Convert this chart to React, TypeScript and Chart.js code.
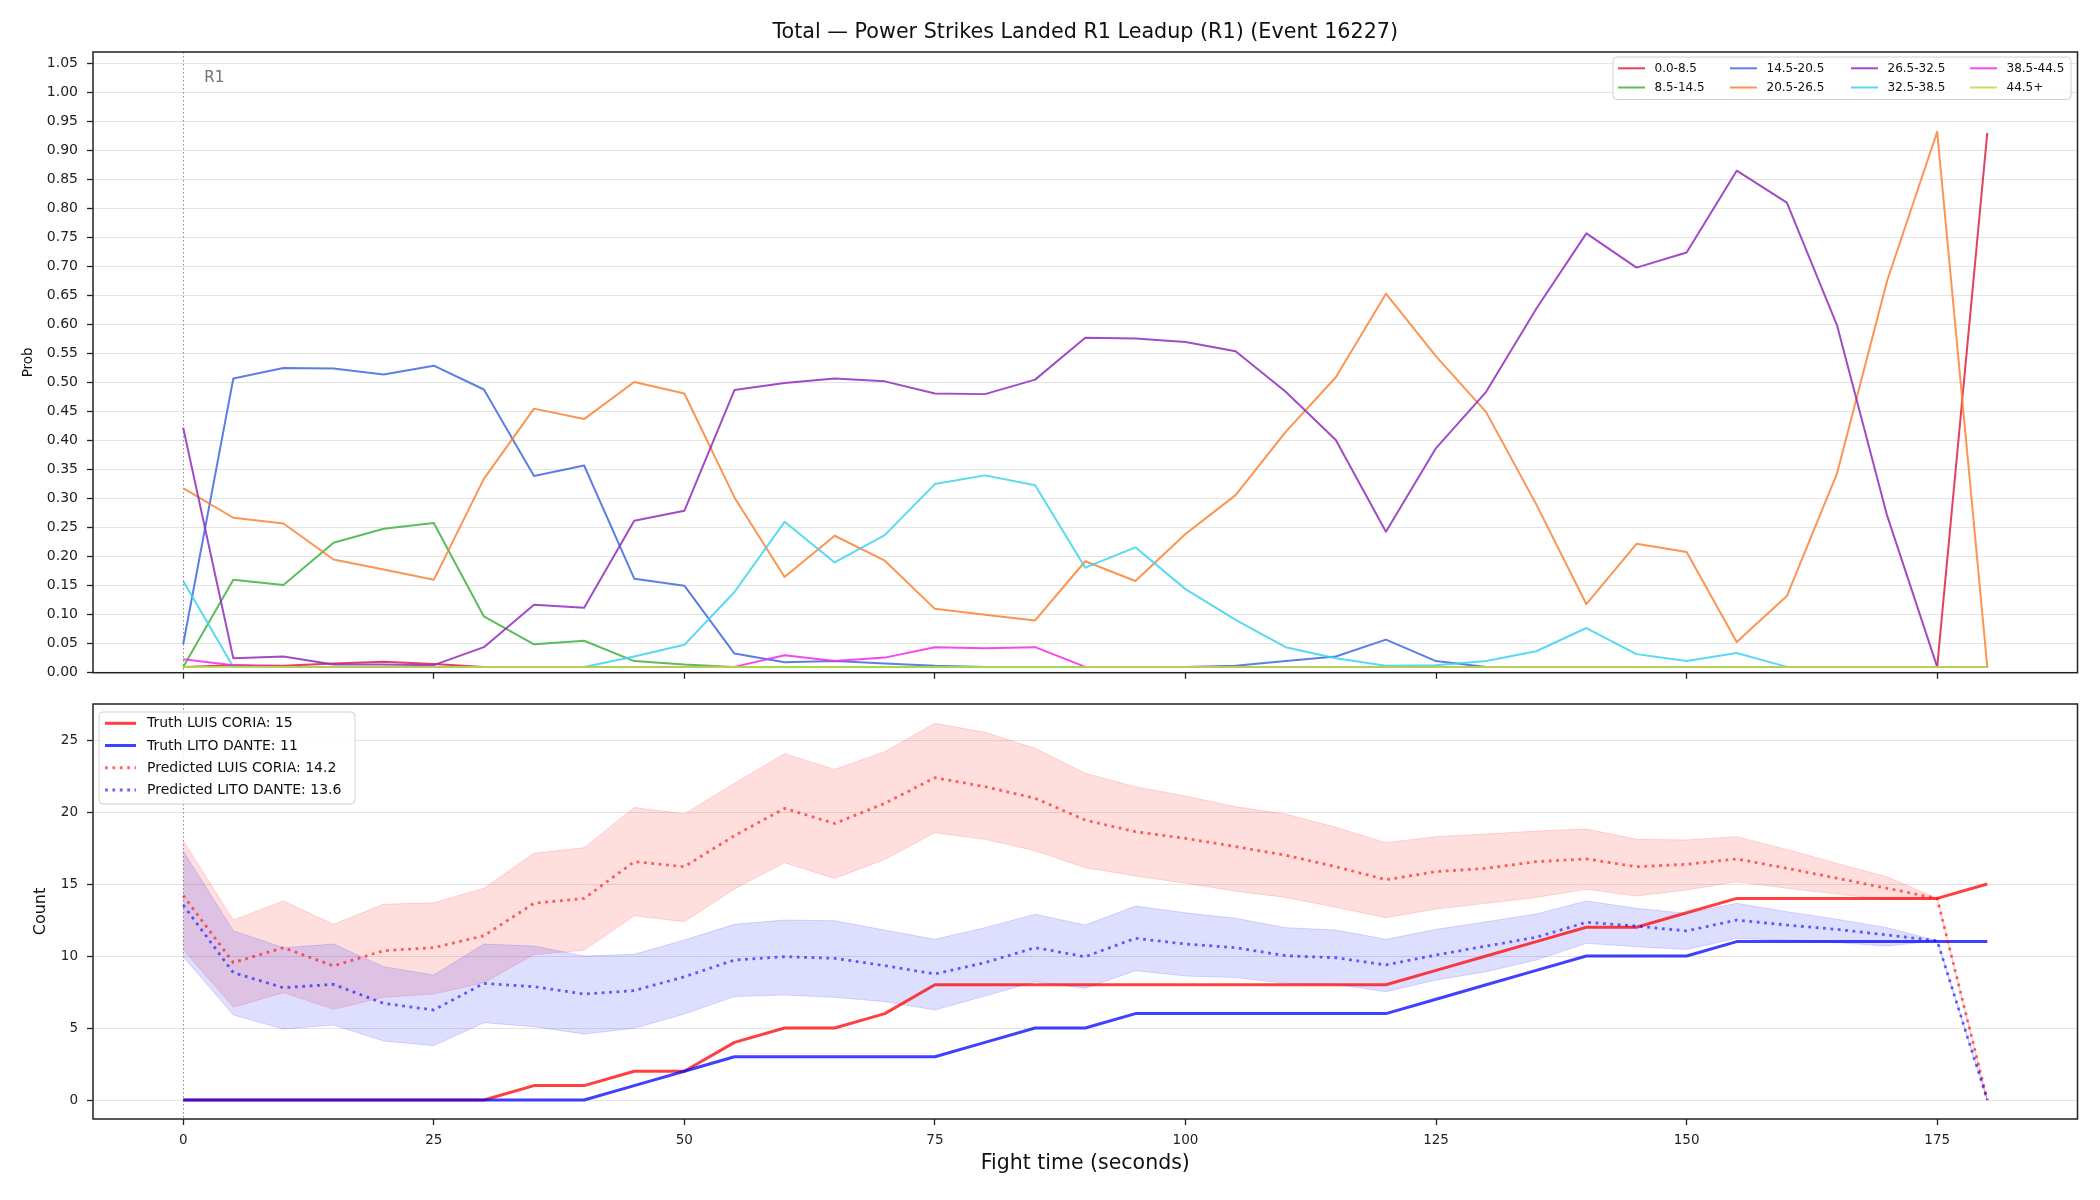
import React, { useEffect, useRef } from "react";
import { Chart, registerables } from "chart.js";

Chart.register(...registerables);

const FONT = "'DejaVu Sans', 'Liberation Sans', sans-serif";
const TITLE = "Total \u2014 Power Strikes Landed R1 Leadup (R1) (Event 16227)";

// ---------- data ----------
const times = [0, 5, 10, 15, 20, 25, 30, 35, 40, 45, 50, 55, 60, 65, 70, 75, 80, 85, 90, 95, 100, 105, 110, 115, 120, 125, 130, 135, 140, 145, 150, 155, 160, 165, 170, 175, 180];

const binLabels = ["0.0-8.5", "8.5-14.5", "14.5-20.5", "20.5-26.5", "26.5-32.5", "32.5-38.5", "38.5-44.5", "44.5+"];
const binColors = [
  "rgba(222,30,70,0.85)",
  "rgba(70,180,70,0.88)",
  "rgba(65,105,225,0.85)",
  "rgba(250,130,50,0.85)",
  "rgba(145,45,190,0.86)",
  "rgba(60,210,240,0.85)",
  "rgba(245,40,235,0.85)",
  "rgba(180,225,70,0.88)",
];

const prob_0_8 = [0.01, 0.013, 0.012, 0.016, 0.019, 0.015, 0.01, 0.01, 0.01, 0.01, 0.01, 0.01, 0.01, 0.01, 0.01, 0.01, 0.01, 0.01, 0.01, 0.01, 0.01, 0.01, 0.01, 0.01, 0.01, 0.01, 0.01, 0.01, 0.01, 0.01, 0.01, 0.01, 0.01, 0.01, 0.01, 0.01, 0.93];
const prob_8_14 = [0.01, 0.16, 0.151, 0.224, 0.248, 0.258, 0.097, 0.049, 0.055, 0.02, 0.014, 0.01, 0.01, 0.01, 0.01, 0.01, 0.01, 0.01, 0.01, 0.01, 0.01, 0.01, 0.01, 0.01, 0.01, 0.01, 0.01, 0.01, 0.01, 0.01, 0.01, 0.01, 0.01, 0.01, 0.01, 0.01, 0.01];
const prob_14_20 = [0.049, 0.507, 0.525, 0.524, 0.514, 0.529, 0.488, 0.339, 0.357, 0.162, 0.15, 0.033, 0.018, 0.02, 0.016, 0.012, 0.01, 0.01, 0.01, 0.01, 0.01, 0.012, 0.02, 0.028, 0.057, 0.02, 0.01, 0.01, 0.01, 0.01, 0.01, 0.01, 0.01, 0.01, 0.01, 0.01, 0.01];
const prob_20_26 = [0.318, 0.267, 0.257, 0.195, 0.178, 0.16, 0.334, 0.455, 0.437, 0.501, 0.481, 0.302, 0.165, 0.236, 0.193, 0.11, 0.1, 0.09, 0.192, 0.158, 0.239, 0.306, 0.415, 0.509, 0.653, 0.545, 0.449, 0.29, 0.118, 0.222, 0.208, 0.053, 0.132, 0.343, 0.675, 0.932, 0.01];
const prob_26_32 = [0.422, 0.025, 0.028, 0.014, 0.014, 0.013, 0.044, 0.117, 0.112, 0.262, 0.279, 0.487, 0.499, 0.507, 0.502, 0.481, 0.48, 0.505, 0.577, 0.576, 0.57, 0.554, 0.484, 0.401, 0.243, 0.387, 0.484, 0.627, 0.757, 0.698, 0.724, 0.865, 0.81, 0.599, 0.271, 0.01, 0.01];
const prob_32_38 = [0.158, 0.01, 0.01, 0.01, 0.01, 0.01, 0.01, 0.01, 0.01, 0.028, 0.048, 0.139, 0.26, 0.19, 0.237, 0.325, 0.34, 0.323, 0.181, 0.216, 0.144, 0.091, 0.044, 0.025, 0.012, 0.013, 0.02, 0.037, 0.077, 0.032, 0.02, 0.034, 0.01, 0.01, 0.01, 0.01, 0.01];
const prob_38_44 = [0.023, 0.013, 0.01, 0.01, 0.01, 0.01, 0.01, 0.01, 0.01, 0.01, 0.01, 0.01, 0.03, 0.02, 0.026, 0.044, 0.042, 0.044, 0.01, 0.01, 0.01, 0.01, 0.01, 0.01, 0.01, 0.01, 0.01, 0.01, 0.01, 0.01, 0.01, 0.01, 0.01, 0.01, 0.01, 0.01, 0.01];
const prob_44_up = [0.01, 0.01, 0.01, 0.01, 0.01, 0.01, 0.01, 0.01, 0.01, 0.01, 0.01, 0.01, 0.01, 0.01, 0.01, 0.01, 0.01, 0.01, 0.01, 0.01, 0.01, 0.01, 0.01, 0.01, 0.01, 0.01, 0.01, 0.01, 0.01, 0.01, 0.01, 0.01, 0.01, 0.01, 0.01, 0.01, 0.01];

const truthLuis = [0, 0, 0, 0, 0, 0, 0, 1, 1, 2, 2, 4, 5, 5, 6, 8, 8, 8, 8, 8, 8, 8, 8, 8, 8, 9, 10, 11, 12, 12, 13, 14, 14, 14, 14, 14, 15];
const truthLito = [0, 0, 0, 0, 0, 0, 0, 0, 0, 1, 2, 3, 3, 3, 3, 3, 4, 5, 5, 6, 6, 6, 6, 6, 6, 7, 8, 9, 10, 10, 10, 11, 11, 11, 11, 11, 11];
const predLuis = [14.2, 9.54, 10.58, 9.31, 10.37, 10.58, 11.41, 13.66, 14.0, 16.55, 16.2, 18.36, 20.25, 19.2, 20.6, 22.38, 21.76, 20.95, 19.44, 18.63, 18.17, 17.6, 17.0, 16.2, 15.3, 15.86, 16.09, 16.55, 16.74, 16.2, 16.37, 16.74, 16.09, 15.4, 14.7, 14.0, 0];
const upperLuis = [18.0, 12.5, 13.82, 12.2, 13.59, 13.7, 14.7, 17.13, 17.52, 20.32, 19.86, 21.99, 24.05, 22.96, 24.19, 26.16, 25.53, 24.42, 22.69, 21.76, 21.11, 20.37, 19.86, 18.94, 17.87, 18.29, 18.47, 18.68, 18.82, 18.1, 18.06, 18.29, 17.4, 16.43, 15.5, 14.0, 0];
const lowerLuis = [10.46, 6.44, 7.45, 6.3, 7.13, 7.36, 8.15, 10.1, 10.4, 12.8, 12.38, 14.65, 16.48, 15.39, 16.71, 18.56, 18.1, 17.31, 16.13, 15.56, 15.05, 14.5, 14.07, 13.38, 12.66, 13.26, 13.66, 14.07, 14.63, 14.17, 14.58, 15.16, 14.7, 14.3, 13.94, 14.0, 0];
const predLito = [13.54, 8.84, 7.8, 8.03, 6.71, 6.25, 8.1, 7.87, 7.36, 7.6, 8.56, 9.72, 9.95, 9.84, 9.33, 8.75, 9.54, 10.58, 9.95, 11.23, 10.83, 10.58, 10.02, 9.88, 9.38, 10.07, 10.69, 11.3, 12.34, 12.08, 11.74, 12.5, 12.15, 11.85, 11.46, 11.06, 0];
const upperLito = [17.29, 11.76, 10.58, 10.83, 9.26, 8.68, 10.83, 10.69, 10.0, 10.12, 11.11, 12.2, 12.5, 12.45, 11.8, 11.16, 11.97, 12.9, 12.15, 13.47, 13.0, 12.62, 11.97, 11.8, 11.16, 11.85, 12.38, 12.92, 13.82, 13.31, 12.96, 13.66, 13.08, 12.55, 11.97, 11.06, 0];
const lowerLito = [9.95, 5.9, 4.93, 5.2, 4.1, 3.77, 5.37, 5.09, 4.58, 4.98, 5.97, 7.18, 7.29, 7.13, 6.83, 6.25, 7.22, 8.22, 7.75, 8.98, 8.61, 8.5, 8.1, 8.03, 7.52, 8.33, 8.91, 9.72, 10.88, 10.65, 10.46, 11.23, 11.1, 10.93, 10.69, 11.06, 0];

const legendBottom = ["Truth LUIS CORIA: 15", "Truth LITO DANTE: 11", "Predicted LUIS CORIA: 14.2", "Predicted LITO DANTE: 13.6"];

const probTicks = [0, 0.05, 0.1, 0.15, 0.2, 0.25, 0.3, 0.35, 0.4, 0.45, 0.5, 0.55, 0.6, 0.65, 0.7, 0.75, 0.8, 0.85, 0.9, 0.95, 1.0, 1.05];
const timeTicks = [0, 25, 50, 75, 100, 125, 150, 175];
const countTicks = [0, 5, 10, 15, 20, 25];

// ---------- layout ----------
const W = 2100;
const TOP_H = 690;
const BOT_H = 510;
const PLOT_LEFT = 93;
const PLOT_RIGHT = 2077.5;
const X_MIN = -9;
const X_MAX = 189;

const RED_TRUTH = "rgba(255,0,0,0.75)";
const BLUE_TRUTH = "rgba(0,0,255,0.75)";
const RED_PRED = "rgba(255,0,0,0.6)";
const BLUE_PRED = "rgba(0,0,255,0.6)";
const DOT = [2.8, 4.6];

const pts = (vals: number[]) => times.map((t, k) => ({ x: t, y: vals[k] }));

function drawMarker(chart: any) {
  const { ctx, chartArea: a, scales } = chart;
  const x0 = Math.round(scales.x.getPixelForValue(0)) + 0.5;
  ctx.save();
  ctx.strokeStyle = "#888888";
  ctx.lineWidth = 1;
  ctx.setLineDash([1.5, 2.5]);
  ctx.beginPath();
  ctx.moveTo(x0, a.top);
  ctx.lineTo(x0, a.bottom);
  ctx.stroke();
  ctx.restore();
}

function drawFrame(ctx: CanvasRenderingContext2D, a: any) {
  ctx.save();
  ctx.strokeStyle = "#222222";
  ctx.lineWidth = 1.5;
  ctx.strokeRect(a.left, a.top, a.right - a.left, a.bottom - a.top);
  ctx.restore();
}

function legendBox(ctx: CanvasRenderingContext2D, x: number, y: number, w: number, h: number) {
  const r = 4;
  ctx.save();
  ctx.beginPath();
  ctx.moveTo(x + r, y);
  ctx.lineTo(x + w - r, y);
  ctx.arcTo(x + w, y, x + w, y + r, r);
  ctx.lineTo(x + w, y + h - r);
  ctx.arcTo(x + w, y + h, x + w - r, y + h, r);
  ctx.lineTo(x + r, y + h);
  ctx.arcTo(x, y + h, x, y + h - r, r);
  ctx.lineTo(x, y + r);
  ctx.arcTo(x, y, x + r, y, r);
  ctx.closePath();
  ctx.fillStyle = "rgba(255,255,255,0.85)";
  ctx.fill();
  ctx.strokeStyle = "#d0d0d0";
  ctx.lineWidth = 1;
  ctx.stroke();
  ctx.restore();
}

const topPlugin = {
  id: "topDecor",
  beforeDatasetsDraw(chart: any) {
    drawMarker(chart);
  },
  afterDraw(chart: any) {
    const { ctx, chartArea: a, scales } = chart;
    drawFrame(ctx, a);
    ctx.save();
    ctx.fillStyle = "#111111";
    ctx.textAlign = "center";
    ctx.textBaseline = "middle";
    ctx.font = `20.7px ${FONT}`;
    ctx.fillText(TITLE, (a.left + a.right) / 2, 32.5);
    ctx.save();
    ctx.translate(28.5, (a.top + a.bottom) / 2);
    ctx.rotate(-Math.PI / 2);
    ctx.font = `13.5px ${FONT}`;
    ctx.fillText("Prob", 0, 0);
    ctx.restore();
    const x0 = scales.x.getPixelForValue(0);
    ctx.fillStyle = "#707070";
    ctx.font = `15px ${FONT}`;
    ctx.textAlign = "left";
    ctx.fillText("R1", x0 + 21, a.top + 26);

    // legend (column-major, 4 columns x 2 rows)
    const bx = a.right - 464.5;
    const by = a.top + 5;
    legendBox(ctx, bx, by, 458, 42.5);
    const colX = [5, 117, 238, 357];
    const rowY = [11.3, 30.5];
    ctx.font = `12px ${FONT}`;
    ctx.textBaseline = "middle";
    binLabels.forEach((lab, k) => {
      const c = Math.floor(k / 2);
      const r = k % 2;
      const sx = bx + colX[c];
      const sy = by + rowY[r];
      ctx.strokeStyle = binColors[k];
      ctx.lineWidth = 2;
      ctx.setLineDash([]);
      ctx.beginPath();
      ctx.moveTo(sx, sy);
      ctx.lineTo(sx + 27, sy);
      ctx.stroke();
      ctx.fillStyle = "#111111";
      ctx.fillText(lab, sx + 36.5, sy + 0.5);
    });
    ctx.restore();
  },
};

const bottomPlugin = {
  id: "bottomDecor",
  beforeDatasetsDraw(chart: any) {
    drawMarker(chart);
  },
  afterDraw(chart: any) {
    const { ctx, chartArea: a } = chart;
    drawFrame(ctx, a);
    ctx.save();
    ctx.fillStyle = "#111111";
    ctx.textAlign = "center";
    ctx.textBaseline = "middle";
    ctx.font = `20.5px ${FONT}`;
    ctx.fillText("Fight time (seconds)", (a.left + a.right) / 2, 474);
    ctx.save();
    ctx.translate(41, (a.top + a.bottom) / 2);
    ctx.rotate(-Math.PI / 2);
    ctx.font = `16px ${FONT}`;
    ctx.fillText("Count", 0, 0);
    ctx.restore();

    const bx = a.left + 6;
    const by = a.top + 8;
    legendBox(ctx, bx, by, 256, 92);
    const cols = [RED_TRUTH, BLUE_TRUTH, RED_PRED, BLUE_PRED];
    const rowY = [11.3, 33.5, 55.7, 77.9];
    ctx.font = `14px ${FONT}`;
    ctx.textAlign = "left";
    legendBottom.forEach((lab, k) => {
      const sy = by + rowY[k];
      ctx.strokeStyle = cols[k];
      ctx.lineWidth = 3;
      ctx.setLineDash(k < 2 ? [] : DOT);
      ctx.beginPath();
      ctx.moveTo(bx + 6, sy);
      ctx.lineTo(bx + 37, sy);
      ctx.stroke();
      ctx.setLineDash([]);
      ctx.fillStyle = "#111111";
      ctx.fillText(lab, bx + 48, sy + 0.5);
    });
    ctx.restore();
  },
};

function xScale(height: number, showLabels: boolean) {
  return {
    type: "linear",
    min: X_MIN,
    max: X_MAX,
    afterBuildTicks: (s: any) => {
      s.ticks = timeTicks.map((v) => ({ value: v }));
    },
    afterFit: (s: any) => {
      s.height = height;
      s.paddingLeft = 0;
      s.paddingRight = 0;
      s.paddingTop = 0;
      s.paddingBottom = 0;
    },
    ticks: {
      display: showLabels,
      maxRotation: 0,
      autoSkip: false,
      padding: 7,
      color: "#222222",
      font: { family: FONT, size: 13.5 },
      callback: (v: any) => String(v),
    },
    grid: {
      drawOnChartArea: false,
      drawTicks: true,
      tickLength: 6,
      tickColor: "#222222",
      tickWidth: 1.3,
    },
    border: { display: false },
  };
}

function yScale(min: number, max: number, ticks: number[], fmt: (v: number) => string, size: number) {
  return {
    type: "linear",
    min,
    max,
    afterBuildTicks: (s: any) => {
      s.ticks = ticks.map((v) => ({ value: v }));
    },
    afterFit: (s: any) => {
      s.width = PLOT_LEFT;
      s.paddingTop = 0;
      s.paddingBottom = 0;
      s.paddingLeft = 0;
      s.paddingRight = 0;
    },
    ticks: {
      autoSkip: false,
      padding: 9,
      color: "#222222",
      font: { family: FONT, size },
      callback: (v: any) => fmt(Number(v)),
    },
    grid: {
      color: "#e4e4e4",
      lineWidth: 1,
      drawTicks: true,
      tickLength: 6,
      tickColor: "#222222",
      tickWidth: 1.3,
    },
    border: { display: false },
  };
}

function topConfig(): any {
  const series = [prob_0_8, prob_8_14, prob_14_20, prob_20_26, prob_26_32, prob_32_38, prob_38_44, prob_44_up];
  return {
    type: "line",
    data: {
      datasets: series.map((vals, i) => ({
        label: binLabels[i],
        data: pts(vals),
        borderColor: binColors[i],
        backgroundColor: binColors[i],
        borderWidth: 2,
        pointRadius: 0,
        tension: 0,
        fill: false,
        borderJoinStyle: "round",
        order: series.length - i,
      })),
    },
    options: {
      responsive: false,
      animation: false,
      devicePixelRatio: 1,
      layout: { padding: { top: 52, right: W - PLOT_RIGHT, left: 0, bottom: 0 } },
      plugins: { legend: { display: false }, tooltip: { enabled: false }, title: { display: false } },
      scales: {
        x: xScale(TOP_H - 672.7, false),
        y: yScale(0, 1.0695, probTicks, (v) => v.toFixed(2), 14),
      },
    },
    plugins: [topPlugin],
  };
}

function bottomConfig(): any {
  const band = (vals: number[], color: string, fill: any, order: number) => ({
    data: pts(vals),
    borderColor: color,
    backgroundColor: color.replace(/[\d.]+\)$/, "0.13)"),
    borderWidth: 1,
    pointRadius: 0,
    tension: 0,
    fill,
    order,
  });
  const line = (vals: number[], color: string, dashed: boolean, order: number, label: string) => ({
    label,
    data: pts(vals),
    borderColor: color,
    backgroundColor: color,
    borderWidth: dashed ? 2.8 : 3,
    borderDash: dashed ? DOT : [],
    borderCapStyle: "butt",
    borderJoinStyle: "round",
    pointRadius: 0,
    tension: 0,
    fill: false,
    order,
  });
  return {
    type: "line",
    data: {
      datasets: [
        band(upperLuis, "rgba(255,0,0,0.14)", "+1", 9),
        band(lowerLuis, "rgba(255,0,0,0.14)", false, 9),
        band(upperLito, "rgba(0,0,255,0.14)", "+1", 8),
        band(lowerLito, "rgba(0,0,255,0.14)", false, 8),
        line(truthLuis, RED_TRUTH, false, 3, legendBottom[0]),
        line(truthLito, BLUE_TRUTH, false, 2, legendBottom[1]),
        line(predLuis, RED_PRED, true, 1, legendBottom[2]),
        line(predLito, BLUE_PRED, true, 0, legendBottom[3]),
      ],
    },
    options: {
      responsive: false,
      animation: false,
      devicePixelRatio: 1,
      layout: { padding: { top: 14, right: W - PLOT_RIGHT, left: 0, bottom: 0 } },
      plugins: {
        legend: { display: false },
        tooltip: { enabled: false },
        title: { display: false },
        filler: { propagate: false },
      },
      scales: {
        x: xScale(81, true),
        y: yScale(-1.319, 27.5, countTicks, (v) => String(v), 13.5),
      },
    },
    plugins: [bottomPlugin],
  };
}

function ChartCanvas({ config, width, height, top }: { config: () => any; width: number; height: number; top: number }) {
  const ref = useRef<HTMLCanvasElement | null>(null);
  useEffect(() => {
    if (!ref.current) return;
    const chart = new Chart(ref.current, config());
    return () => chart.destroy();
  }, []);
  return (
    <canvas
      ref={ref}
      width={width}
      height={height}
      style={{ position: "absolute", left: 0, top, width, height, display: "block" }}
    />
  );
}

export default function App() {
  return (
    <div style={{ position: "absolute", left: 0, top: 0, width: W, height: TOP_H + BOT_H, background: "#ffffff", overflow: "hidden" }}>
      <ChartCanvas config={topConfig} width={W} height={TOP_H} top={0} />
      <ChartCanvas config={bottomConfig} width={W} height={BOT_H} top={TOP_H} />
    </div>
  );
}
